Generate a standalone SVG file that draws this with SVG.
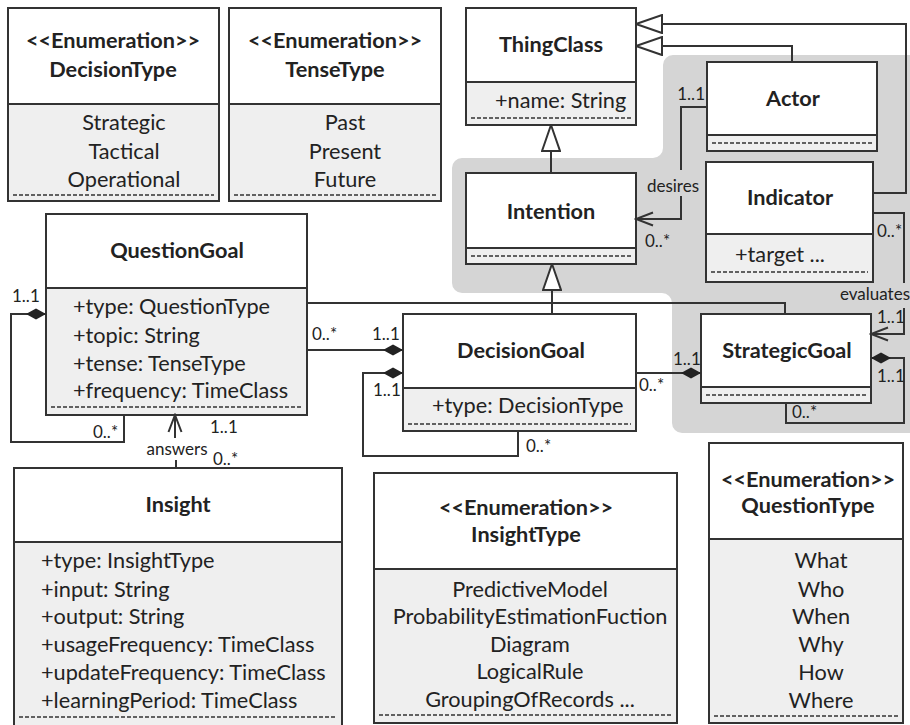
<svg xmlns="http://www.w3.org/2000/svg" width="910" height="725" viewBox="0 0 910 725">
  <style>
    .hd { fill: #ffffff; stroke: none; }
    .at { fill: #efefef; stroke: none; }
    .frame { fill: none; stroke: #333; stroke-width: 2; }
    .div { stroke: #333; stroke-width: 2; }
    .dash { stroke: #333; stroke-width: 1.4; stroke-dasharray: 4 2; }
    .t { font-family: Lato, "Liberation Sans", sans-serif; font-size: 21.7px; fill: #222; }
    .b { font-weight: bold; }
    .c { text-anchor: middle; }
    .lbl { font-family: Lato, "Liberation Sans", sans-serif; font-size: 17px; fill: #222; }
    .ln { fill: none; stroke: #333; stroke-width: 2; }
  </style>
  <defs>
    <marker id="gen" markerUnits="userSpaceOnUse" viewBox="0 0 28 20" refX="27" refY="10" markerWidth="28" markerHeight="20" orient="auto">
      <path d="M1,1 L27,10 L1,19 Z" fill="#fff" stroke="#333" stroke-width="2"/>
    </marker>
    <marker id="comp" markerUnits="userSpaceOnUse" viewBox="0 0 20 12" refX="20" refY="6" markerWidth="20" markerHeight="12" orient="auto">
      <path d="M0,6 L10,0.5 L20,6 L10,11.5 Z" fill="#222"/>
    </marker>
    <marker id="open" markerUnits="userSpaceOnUse" viewBox="0 0 20 16" refX="18" refY="8" markerWidth="20" markerHeight="16" orient="auto">
      <path d="M1,1.5 L18,8 L1,14.5" fill="none" stroke="#333" stroke-width="2"/>
    </marker>
  </defs>

  <!-- shaded goal area -->
  <path d="M673,55 H912 V433 H682 A10,10 0 0 1 672,423 V303 A10,10 0 0 0 662,293 H462 A10,10 0 0 1 452,283 V168 A10,10 0 0 1 462,158 H653 A10,10 0 0 0 663,148 V65 A10,10 0 0 1 673,55 Z" fill="#d5d5d5"/>

  <!-- DecisionType -->
  <g id="DecisionType">
    <rect class="hd" x="8" y="8" width="211" height="96"/>
    <rect class="at" x="8" y="104" width="211" height="97"/>
    <rect class="frame" x="8" y="8" width="211" height="193"/>
    <line class="div" x1="8" y1="104" x2="219" y2="104"/>
    <line class="dash" x1="13" y1="195" x2="214" y2="195"/>
    <text class="t b c" x="113" y="48">&lt;&lt;Enumeration&gt;&gt;</text>
    <text class="t b c" x="113" y="77">DecisionType</text>
    <text class="t c" x="124" y="130">Strategic</text>
    <text class="t c" x="124" y="159">Tactical</text>
    <text class="t c" x="124" y="187">Operational</text>
  </g>

  <!-- TenseType -->
  <g id="TenseType">
    <rect class="hd" x="229" y="8" width="212" height="96"/>
    <rect class="at" x="229" y="104" width="212" height="97"/>
    <rect class="frame" x="229" y="8" width="212" height="193"/>
    <line class="div" x1="229" y1="104" x2="441" y2="104"/>
    <line class="dash" x1="234" y1="195" x2="436" y2="195"/>
    <text class="t b c" x="335" y="48">&lt;&lt;Enumeration&gt;&gt;</text>
    <text class="t b c" x="335" y="77">TenseType</text>
    <text class="t c" x="345" y="130">Past</text>
    <text class="t c" x="345" y="159">Present</text>
    <text class="t c" x="345" y="187">Future</text>
  </g>

  <!-- ThingClass -->
  <g id="ThingClass">
    <rect class="hd" x="466" y="8" width="170" height="74"/>
    <rect class="at" x="466" y="82" width="170" height="43"/>
    <rect class="frame" x="466" y="8" width="170" height="117"/>
    <line class="div" x1="466" y1="82" x2="636" y2="82"/>
    <line class="dash" x1="471" y1="118" x2="631" y2="118"/>
    <text class="t b c" x="551" y="52">ThingClass</text>
    <text class="t" x="495" y="108">+name: String</text>
  </g>

  <!-- Actor -->
  <g id="Actor">
    <rect class="hd" x="707" y="62" width="170" height="73"/>
    <rect class="at" x="707" y="135" width="170" height="16"/>
    <rect class="frame" x="707" y="62" width="170" height="89"/>
    <line class="div" x1="707" y1="135" x2="877" y2="135"/>
    <line class="dash" x1="712" y1="143" x2="872" y2="143"/>
    <text class="t b c" x="793" y="106">Actor</text>
  </g>

  <!-- Intention -->
  <g id="Intention">
    <rect class="hd" x="466" y="173" width="170" height="75"/>
    <rect class="at" x="466" y="248" width="170" height="16"/>
    <rect class="frame" x="466" y="173" width="170" height="91"/>
    <line class="div" x1="466" y1="248" x2="636" y2="248"/>
    <line class="dash" x1="471" y1="256" x2="631" y2="256"/>
    <text class="t b c" x="551" y="219">Intention</text>
  </g>

  <!-- Indicator -->
  <g id="Indicator">
    <rect class="hd" x="706" y="162" width="167" height="72"/>
    <rect class="at" x="706" y="234" width="167" height="48"/>
    <rect class="frame" x="706" y="162" width="167" height="120"/>
    <line class="div" x1="706" y1="234" x2="873" y2="234"/>
    <line class="dash" x1="711" y1="272" x2="868" y2="272"/>
    <text class="t b c" x="790" y="205">Indicator</text>
    <text class="t" x="735" y="262">+target ...</text>
  </g>

  <!-- QuestionGoal -->
  <g id="QuestionGoal">
    <rect class="hd" x="46" y="214" width="261" height="74"/>
    <rect class="at" x="46" y="288" width="261" height="127"/>
    <rect class="frame" x="46" y="214" width="261" height="201"/>
    <line class="div" x1="46" y1="288" x2="307" y2="288"/>
    <line class="dash" x1="51" y1="407" x2="302" y2="407"/>
    <text class="t b c" x="177" y="258">QuestionGoal</text>
    <text class="t" x="73" y="314">+type: QuestionType</text>
    <text class="t" x="73" y="343">+topic: String</text>
    <text class="t" x="73" y="371">+tense: TenseType</text>
    <text class="t" x="73" y="398">+frequency: TimeClass</text>
  </g>

  <!-- DecisionGoal -->
  <g id="DecisionGoal">
    <rect class="hd" x="403" y="314" width="233" height="74"/>
    <rect class="at" x="403" y="388" width="233" height="43"/>
    <rect class="frame" x="403" y="314" width="233" height="117"/>
    <line class="div" x1="403" y1="388" x2="636" y2="388"/>
    <line class="dash" x1="408" y1="424" x2="631" y2="424"/>
    <text class="t b c" x="521" y="358">DecisionGoal</text>
    <text class="t" x="432" y="413">+type: DecisionType</text>
  </g>

  <!-- StrategicGoal -->
  <g id="StrategicGoal">
    <rect class="hd" x="701" y="314" width="170" height="73"/>
    <rect class="at" x="701" y="387" width="170" height="16"/>
    <rect class="frame" x="701" y="314" width="170" height="89"/>
    <line class="div" x1="701" y1="387" x2="871" y2="387"/>
    <line class="dash" x1="706" y1="395" x2="866" y2="395"/>
    <text class="t b c" x="787" y="358">StrategicGoal</text>
  </g>

  <!-- Insight -->
  <g id="Insight">
    <rect class="hd" x="14" y="468" width="328" height="74"/>
    <rect class="at" x="14" y="542" width="328" height="190"/>
    <rect class="frame" x="14" y="468" width="328" height="264"/>
    <line class="div" x1="14" y1="542" x2="342" y2="542"/>
    <line class="dash" x1="19" y1="717" x2="337" y2="717"/>
    <text class="t b c" x="178" y="512">Insight</text>
    <text class="t" x="41" y="568">+type: InsightType</text>
    <text class="t" x="41" y="597">+input: String</text>
    <text class="t" x="41" y="624">+output: String</text>
    <text class="t" x="41" y="652">+usageFrequency: TimeClass</text>
    <text class="t" x="41" y="680">+updateFrequency: TimeClass</text>
    <text class="t" x="41" y="708">+learningPeriod: TimeClass</text>
  </g>

  <!-- InsightType -->
  <g id="InsightType">
    <rect class="hd" x="374" y="473" width="303" height="96"/>
    <rect class="at" x="374" y="569" width="303" height="154"/>
    <rect class="frame" x="374" y="473" width="303" height="250"/>
    <line class="div" x1="374" y1="569" x2="677" y2="569"/>
    <line class="dash" x1="379" y1="715" x2="672" y2="715"/>
    <text class="t b c" x="526" y="515">&lt;&lt;Enumeration&gt;&gt;</text>
    <text class="t b c" x="526" y="542">InsightType</text>
    <text class="t c" x="530" y="597">PredictiveModel</text>
    <text class="t c" x="530" y="624">ProbabilityEstimationFuction</text>
    <text class="t c" x="530" y="652">Diagram</text>
    <text class="t c" x="530" y="679">LogicalRule</text>
    <text class="t c" x="530" y="707">GroupingOfRecords ...</text>
  </g>

  <!-- QuestionType -->
  <g id="QuestionType">
    <rect class="hd" x="709" y="443" width="194" height="96"/>
    <rect class="at" x="709" y="539" width="194" height="184"/>
    <rect class="frame" x="709" y="443" width="194" height="280"/>
    <line class="div" x1="709" y1="539" x2="903" y2="539"/>
    <line class="dash" x1="714" y1="716" x2="898" y2="716"/>
    <text class="t b c" x="808" y="487">&lt;&lt;Enumeration&gt;&gt;</text>
    <text class="t b c" x="808" y="513">QuestionType</text>
    <text class="t c" x="821" y="568">What</text>
    <text class="t c" x="821" y="597">Who</text>
    <text class="t c" x="821" y="624">When</text>
    <text class="t c" x="821" y="652">Why</text>
    <text class="t c" x="821" y="680">How</text>
    <text class="t c" x="821" y="708">Where</text>
  </g>

  <!-- connectors -->
  <g id="connectors">
    <!-- generalizations -->
    <path class="ln" d="M551,173 V125" marker-end="url(#gen)"/>
    <path class="ln" d="M552,314 V264" marker-end="url(#gen)"/>
    <path class="ln" d="M307,303 H785 V314"/>
    <path class="ln" d="M873,193 H906 V24 H636" marker-end="url(#gen)"/>
    <path class="ln" d="M792,62 V46 H636" marker-end="url(#gen)"/>

    <!-- desires -->
    <path class="ln" d="M707,107 H681 V170"/>
    <path class="ln" d="M681,196 V219 H636" marker-end="url(#open)"/>
    <text class="lbl" x="705" y="100" text-anchor="end">1..1</text>
    <text class="lbl" x="673" y="192" text-anchor="middle">desires</text>
    <text class="lbl" x="645" y="247">0..*</text>

    <!-- evaluates -->
    <path class="ln" d="M873,213 H904 V283"/>
    <path class="ln" d="M904,308 V334 H871" marker-end="url(#open)"/>
    <text class="lbl" x="877" y="237">0..*</text>
    <text class="lbl" x="875" y="300" text-anchor="middle">evaluates</text>
    <text class="lbl" x="877" y="323">1..1</text>

    <!-- StrategicGoal self composition -->
    <path class="ln" d="M786,403 V423 H904 V358 H871" marker-end="url(#comp)"/>
    <text class="lbl" x="877" y="382">1..1</text>
    <text class="lbl" x="792" y="418">0..*</text>

    <!-- DecisionGoal to StrategicGoal -->
    <path class="ln" d="M636,373 H701" marker-end="url(#comp)"/>
    <text class="lbl" x="673" y="365">1..1</text>
    <text class="lbl" x="639" y="391">0..*</text>

    <!-- QuestionGoal to DecisionGoal -->
    <path class="ln" d="M307,350 H403" marker-end="url(#comp)"/>
    <text class="lbl" x="312" y="340">0..*</text>
    <text class="lbl" x="372" y="340">1..1</text>

    <!-- DecisionGoal self composition -->
    <path class="ln" d="M518,431 V456 H363 V373 H403" marker-end="url(#comp)"/>
    <text class="lbl" x="373" y="396">1..1</text>
    <text class="lbl" x="526" y="452">0..*</text>

    <!-- QuestionGoal self composition -->
    <path class="ln" d="M124,415 V442 H11 V314 H46" marker-end="url(#comp)"/>
    <text class="lbl" x="12" y="302">1..1</text>
    <text class="lbl" x="93" y="438">0..*</text>

    <!-- answers -->
    <path class="ln" d="M176,468 V460"/>
    <path class="ln" d="M175,438 V415" marker-end="url(#open)"/>
    <text class="lbl" x="177" y="455" text-anchor="middle">answers</text>
    <text class="lbl" x="210" y="433">1..1</text>
    <text class="lbl" x="213" y="465">0..*</text>
  </g>
</svg>
